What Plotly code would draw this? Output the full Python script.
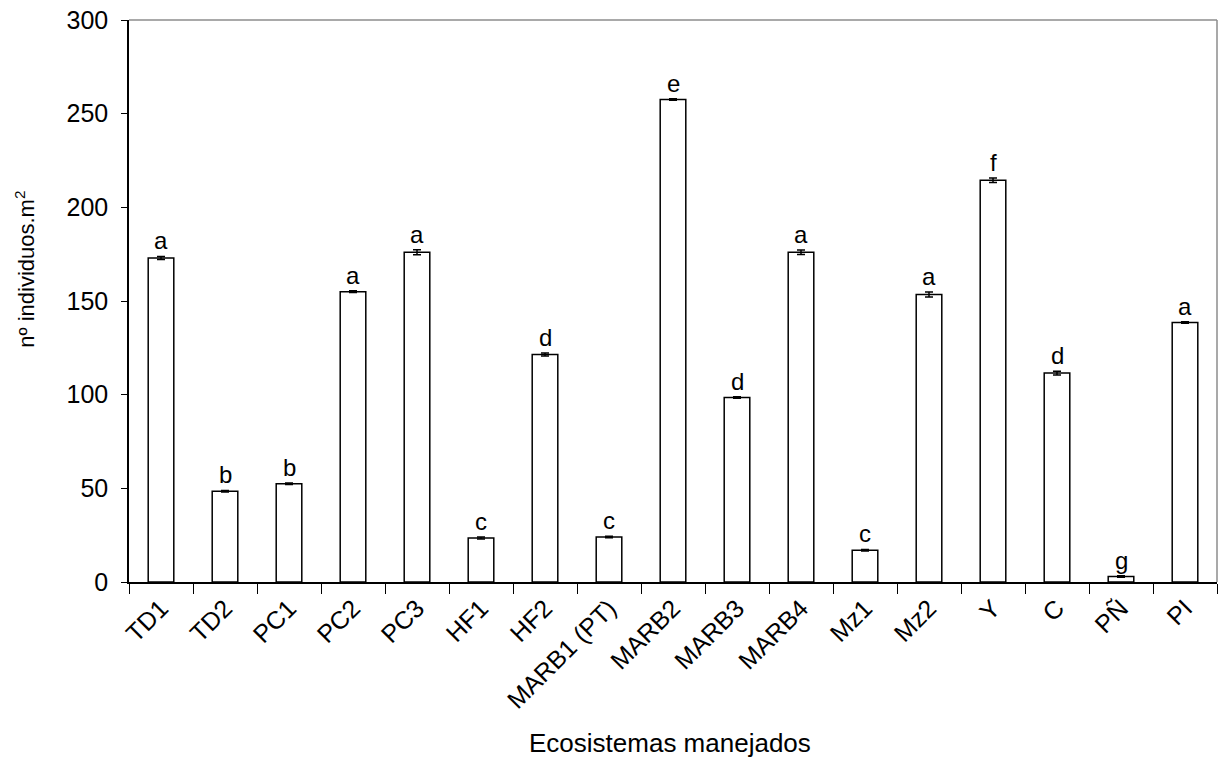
import plotly.graph_objects as go

categories = ["TD1", "TD2", "PC1", "PC2", "PC3", "HF1", "HF2", "MARB1 (PT)", "MARB2",
              "MARB3", "MARB4", "Mz1", "Mz2", "Y", "C", "PÑ", "PI"]
values = [173, 48.5, 52.5, 155, 176, 23.5, 121.5, 24, 257.5, 98.5, 176, 17, 153.5, 214.5, 111.5, 3, 138.5]
errors = [0.8, 0.4, 0.4, 0.5, 1.3, 0.5, 0.8, 0.4, 0.4, 0.4, 1.2, 0.4, 1.3, 1.2, 1.0, 0.4, 0.4]
letters = ["a", "b", "b", "a", "a", "c", "d", "c", "e", "d", "a", "c", "a", "f", "d", "g", "a"]

FONT = "Liberation Sans, Arial, sans-serif"

fig = go.Figure()
fig.add_trace(go.Bar(
    x=categories, y=values,
    marker=dict(color="white", line=dict(color="black", width=1.5)),
    width=0.4,
    error_y=dict(type="data", array=errors, visible=True, color="black", thickness=1.5, width=4),
))

for c, v, e, l in zip(categories, values, errors, letters):
    fig.add_annotation(x=c, y=v + e, text=l, showarrow=False, xref="x", yref="y",
                       yanchor="bottom", yshift=0, font=dict(family=FONT, size=24, color="black"))

# axis titles
fig.add_annotation(x=0.497, y=-0.2865, xref="paper", yref="paper", xanchor="center", yanchor="middle",
                   text="Ecosistemas manejados", showarrow=False,
                   font=dict(family=FONT, size=26, color="black"))
fig.add_annotation(x=-0.0958, y=0.557, xref="paper", yref="paper", xanchor="center", yanchor="middle",
                   text="nº individuos.m<sup>2</sup>", showarrow=False, textangle=-90,
                   font=dict(family=FONT, size=22, color="black"))

fig.update_layout(
    width=1219, height=758,
    margin=dict(l=129, r=2, t=20, b=176, autoexpand=False),
    plot_bgcolor="white", paper_bgcolor="white",
    showlegend=False,
    font=dict(family=FONT, size=25, color="black"),
)
fig.update_xaxes(
    showline=True, linecolor="black", linewidth=1.5,
    ticks="outside", tickson="boundaries", ticklen=10, tickcolor="black", tickwidth=1,
    tickangle=-45, tickfont=dict(family=FONT, size=25, color="black"),
    showgrid=False,
)
fig.update_yaxes(
    range=[0, 300], tickvals=[0, 50, 100, 150, 200, 250, 300],
    showline=True, linecolor="black", linewidth=1.5,
    ticks="outside", ticklen=6, tickcolor="black", tickwidth=1,
    ticklabelstandoff=8,
    tickfont=dict(family=FONT, size=25, color="black"),
    showgrid=False, zeroline=False,
)
# gray frame on top and right
fig.add_shape(type="line", xref="paper", yref="paper", x0=0, x1=1, y0=1, y1=1,
              line=dict(color="#8c8c8c", width=1.5))
fig.add_shape(type="line", xref="paper", yref="paper", x0=1, x1=1, y0=0, y1=1,
              line=dict(color="#8c8c8c", width=1.5))

fig.write_html("out.html")
